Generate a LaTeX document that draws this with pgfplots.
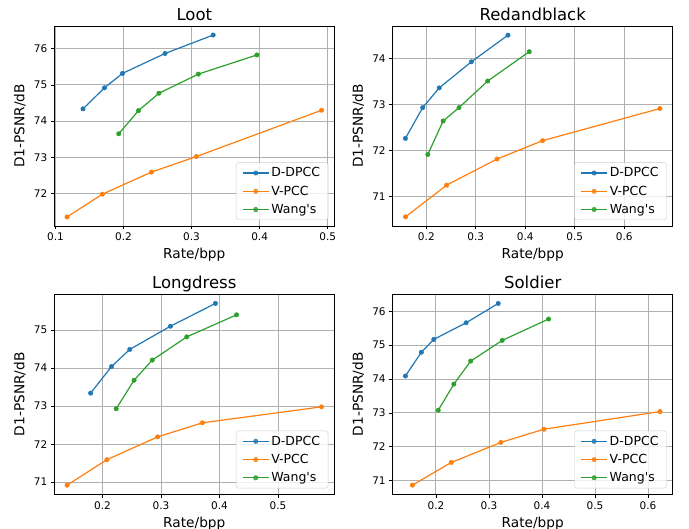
\documentclass[border=0pt]{standalone}
\usepackage{fontspec}
\setmainfont{DejaVu Sans}[Ligatures=TeXOff]
\usepackage{pgfplots}
\pgfplotsset{compat=1.18}
\definecolor{c0}{HTML}{1F77B4}
\definecolor{c1}{HTML}{FF7F0E}
\definecolor{c2}{HTML}{2CA02C}
\definecolor{gridgray}{HTML}{B0B0B0}
\definecolor{leggray}{HTML}{CCCCCC}
\pgfplotsset{
  myaxis/.style={
    scale only axis, width=280pt, height=200pt,
    axis line style={line width=0.8pt, black},
    grid=major, major grid style={line width=0.9pt, color=gridgray},
    tick align=outside, major tick length=3.5pt,
    tick style={line width=0.8pt, black},
    xtick pos=left, ytick pos=left,
    /pgf/number format/assume math mode=true,
    ticklabel style={font=\fontsize{10.5}{12}\selectfont},
    xticklabel style={/pgf/number format/fixed, /pgf/number format/precision=1, /pgf/number format/fixed zerofill},
    xlabel={Rate/bpp}, ylabel={D1-PSNR/dB},
    every axis x label/.style={at={(axis description cs:0.5,-0.165)}, anchor=base, font=\fontsize{13.7}{16}\selectfont},
    every axis y label/.style={at={(axis description cs:-0.1068,0.5)}, rotate=90, anchor=base, font=\fontsize{13.7}{16}\selectfont},
    every axis title/.style={at={(axis description cs:0.5,1.0265)}, anchor=base, font=\fontsize{16.5}{19}\selectfont},
    legend style={at={(axis description cs:1,0)}, anchor=south east, xshift=-6pt, yshift=6pt,
      draw=leggray, rounded corners=2.5pt, fill=white, fill opacity=0.8, text opacity=1,
      font=\fontsize{12.5}{14}\selectfont, inner xsep=6pt, inner ysep=3pt, row sep=3.5pt},
    legend cell align=left,
    legend image code/.code={\draw[mark repeat=2,mark phase=2,#1] plot coordinates {(0pt,0pt) (13pt,0pt) (26pt,0pt)};},
  },
  s0/.style={color=c0, line width=1.2pt, mark=*, mark size=2.2pt, mark options={solid, fill=c0, line width=0.5pt}},
  s1/.style={color=c1, line width=1.2pt, mark=*, mark size=2.2pt, mark options={solid, fill=c1, line width=0.5pt}},
  s2/.style={color=c2, line width=1.2pt, mark=*, mark size=2.2pt, mark options={solid, fill=c2, line width=0.5pt}},
}
\begin{document}
\begin{tikzpicture}
\useasboundingbox (0pt,0pt) rectangle (689pt,-529pt);
% Loot
\begin{axis}[myaxis, at={(54.3pt,-26pt)}, anchor=north west, title={Loot},
  xmin=0.0983, xmax=0.5097, ymin=71.10, ymax=76.63,
  xtick={0.1,0.2,0.3,0.4,0.5}, ytick={72,73,74,75,76}]
\addplot[s0] coordinates {(0.1405,74.34) (0.172,74.92) (0.1985,75.32) (0.261,75.87) (0.3317,76.38)};
\addplot[s1] coordinates {(0.117,71.35) (0.169,71.98) (0.241,72.59) (0.307,73.02) (0.491,74.30)};
\addplot[s2] coordinates {(0.193,73.65) (0.222,74.29) (0.252,74.77) (0.310,75.30) (0.396,75.83)};
\legend{D-DPCC,V-PCC,Wang's}
\end{axis}
% Redandblack
\begin{axis}[myaxis, at={(392.7pt,-26pt)}, anchor=north west, title={Redandblack},
  xmin=0.132, xmax=0.698, ymin=70.35, ymax=74.71,
  xtick={0.2,0.3,0.4,0.5,0.6}, ytick={71,72,73,74}]
\addplot[s0] coordinates {(0.1577,72.26) (0.1926,72.93) (0.226,73.36) (0.291,73.93) (0.365,74.51)};
\addplot[s1] coordinates {(0.158,70.55) (0.241,71.24) (0.343,71.81) (0.435,72.21) (0.672,72.91)};
\addplot[s2] coordinates {(0.203,71.91) (0.234,72.64) (0.266,72.93) (0.324,73.51) (0.408,74.15)};
\legend{D-DPCC,V-PCC,Wang's}
\end{axis}
% Longdress
\begin{axis}[myaxis, at={(54.3pt,-294.3pt)}, anchor=north west, title={Longdress},
  xmin=0.1175, xmax=0.5962, ymin=70.68, ymax=75.94,
  xtick={0.2,0.3,0.4,0.5}, ytick={71,72,73,74,75}]
\addplot[s0] coordinates {(0.1796,73.34) (0.2153,74.04) (0.2465,74.49) (0.316,75.10) (0.393,75.70)};
\addplot[s1] coordinates {(0.1393,70.92) (0.2074,71.59) (0.2942,72.19) (0.3707,72.56) (0.5744,72.98)};
\addplot[s2] coordinates {(0.2233,72.93) (0.2539,73.68) (0.285,74.21) (0.344,74.82) (0.429,75.40)};
\legend{D-DPCC,V-PCC,Wang's}
\end{axis}
% Soldier
\begin{axis}[myaxis, at={(392.7pt,-294.3pt)}, anchor=north west, title={Soldier},
  xmin=0.1185, xmax=0.6465, ymin=70.60, ymax=76.50,
  xtick={0.2,0.3,0.4,0.5,0.6}, ytick={71,72,73,74,75,76}]
\addplot[s0] coordinates {(0.1425,74.09) (0.1725,74.79) (0.196,75.17) (0.2569,75.66) (0.3175,76.23)};
\addplot[s1] coordinates {(0.1556,70.87) (0.229,71.54) (0.3225,72.13) (0.4037,72.52) (0.6225,73.04)};
\addplot[s2] coordinates {(0.2044,73.08) (0.2338,73.85) (0.2656,74.53) (0.325,75.14) (0.4125,75.77)};
\legend{D-DPCC,V-PCC,Wang's}
\end{axis}
\end{tikzpicture}
\end{document}
